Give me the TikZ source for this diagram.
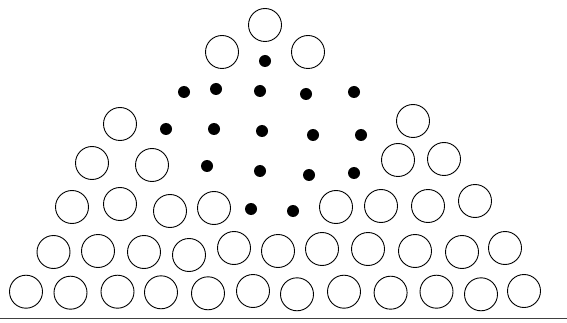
\documentclass[tikz,border=0pt]{standalone}
\begin{document}
\begin{tikzpicture}[x=1pt,y=-1pt,
  ring/.style={circle,draw=black,line width=0.9pt,minimum size=33pt,inner sep=0pt},
  peg/.style={circle,fill=black,minimum size=12pt,inner sep=0pt}]
\useasboundingbox (0,0) rectangle (567,323);
% open circles
\foreach \n/\x/\y in {
  t1/265/25, t2/222/52, t3/308/52,
  a1/120/124, a2/413/121,
  b1/92/163, b2/152/165, b3/398/160, b4/444/159,
  c1/72/207, c2/120/204, c3/170/211, c4/214/208, c5/336/207, c6/381/206, c7/428/206, c8/475/201,
  d1/53.5/252, d2/98/251, d3/144/252, d4/189/255, d5/234/248, d6/278/251, d7/322/249, d8/368/249, d9/415/251, d10/462/252, d11/505/248,
  e1/26/291.7, e2/70.5/292.7, e3/117.5/291.7, e4/161/292.3, e5/208/293.3, e6/253/291, e7/297/294.3, e8/344/291.7, e9/390.6/292.7, e10/436.5/291.7, e11/481/294.3, e12/524/291}
  \node[ring] (\n) at (\x,\y) {};
% filled dots
\foreach \n/\x/\y in {
  p1/265/61,
  p2/184/92, p3/216/89, p4/260/91, p5/306/94, p6/354/92,
  p7/166/129, p8/214/129, p9/262/131, p10/313/135, p11/361/135,
  p12/207/166, p13/260/171, p14/309/175, p15/354/173,
  p16/251/209, p17/293/211}
  \node[peg] (\n) at (\x,\y) {};
% base line
\coordinate (L) at (0,318.5);
\coordinate (R) at (567,318.5);
\draw[line width=1.6pt,black!75] (L) -- (R);
\end{tikzpicture}
\end{document}
